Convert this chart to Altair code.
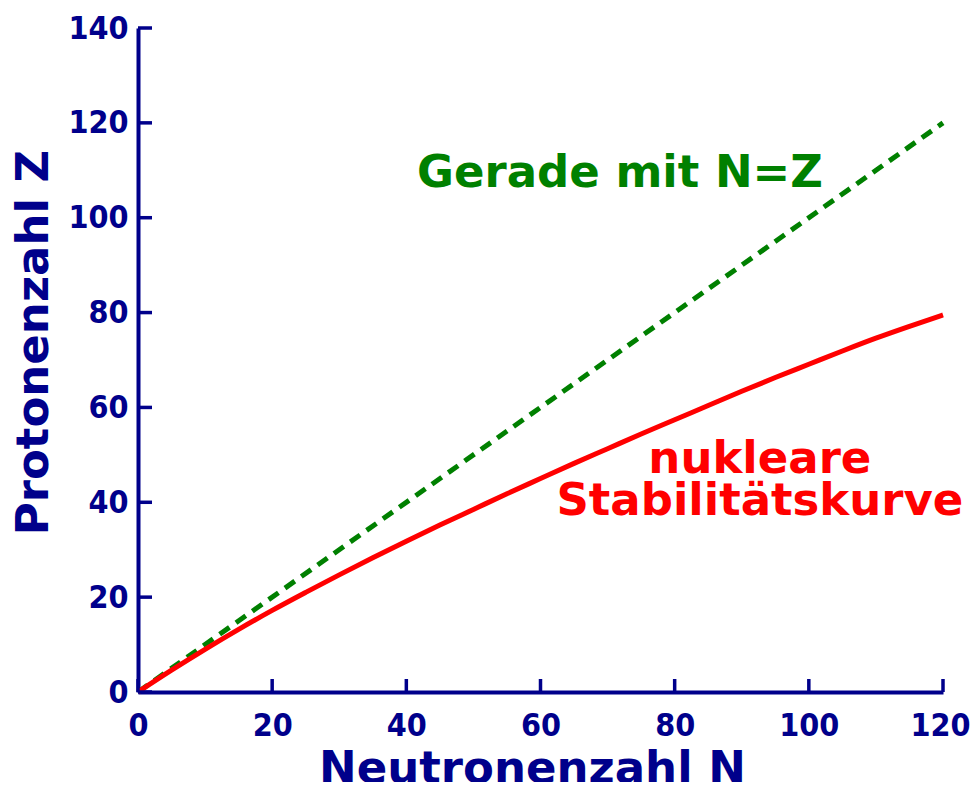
import altair as alt
import pandas as pd

# Data
stab_n = [0, 5, 10, 15, 20, 25, 30, 35, 40, 45, 50, 55, 60, 65, 70, 75, 80, 85, 90, 95, 100, 105, 110, 115, 120]
stab_z = [0, 4.6, 9.0, 13.2, 17.2, 21.0, 24.7, 28.3, 31.8, 35.2, 38.5, 41.8, 45.0, 48.2, 51.3, 54.4, 57.4, 60.4, 63.4, 66.3, 69.1, 71.9, 74.6, 77.1, 79.5]
diag_n = [0, 120]
diag_z = [0, 120]
x_ticks = [0, 20, 40, 60, 80, 100, 120]
y_ticks = [0, 20, 40, 60, 80, 100, 120, 140]

NAVY = "#00008B"
W, H = 805, 664

stab = pd.DataFrame({"N": stab_n, "Z": stab_z})
diag = pd.DataFrame({"N": diag_n, "Z": diag_z})

xs = alt.Scale(domain=[0, 120], nice=False, zero=False)
ys = alt.Scale(domain=[0, 140], nice=False, zero=False)

xaxis = alt.Axis(values=x_ticks, title="Neutronenzahl N", grid=False, ticks=False,
                 domainColor=NAVY, domainWidth=4, labelColor=NAVY,
                 labelFont="DejaVu Sans Condensed", labelFontWeight="bold", labelFontSize=32,
                 labelOffset={"condition": {"test": "datum.value == 120", "value": -3}, "value": 0},
                 labelPadding=18, labelFlush=False, titleColor=NAVY, titleFont="DejaVu Sans",
                 titleFontWeight="bold", titleFontSize=45, titleBaseline="alphabetic",
                 titleY=90, titleX=394)
yaxis = alt.Axis(values=y_ticks, title="Protonenzahl Z", grid=False, ticks=False,
                 domainColor=NAVY, domainWidth=4, labelColor=NAVY,
                 labelFont="DejaVu Sans Condensed", labelFontWeight="bold", labelFontSize=32,
                 labelPadding=10, labelFlush=False, titleColor=NAVY, titleFont="DejaVu Sans",
                 titleFontWeight="bold", titleFontSize=45, titleBaseline="alphabetic",
                 titleX=-91, titleY=314, titleAngle=-90)

base_axes = alt.Chart(stab).mark_line(opacity=0).encode(
    x=alt.X("N:Q", scale=xs, axis=xaxis),
    y=alt.Y("Z:Q", scale=ys, axis=yaxis),
)

yt = alt.Chart(pd.DataFrame({"v": y_ticks})).mark_rule(color=NAVY, strokeWidth=3.5).encode(
    y=alt.Y("v:Q", scale=ys), x=alt.value(0), x2=alt.value(14))
xt = alt.Chart(pd.DataFrame({"v": x_ticks})).mark_rule(color=NAVY, strokeWidth=3.5).encode(
    x=alt.X("v:Q", scale=xs), y=alt.value(H), y2=alt.value(H - 13))

green = alt.Chart(diag).mark_line(color="#008000", strokeWidth=5, strokeDash=[12, 8]).encode(
    x=alt.X("N:Q", scale=xs), y=alt.Y("Z:Q", scale=ys))
red = alt.Chart(stab).mark_line(color="#FF0000", strokeWidth=5, interpolate="monotone").encode(
    x=alt.X("N:Q", scale=xs), y=alt.Y("Z:Q", scale=ys))

labels_green = pd.DataFrame({"N": [71.85], "Z": [106.5], "t": ["Gerade mit N=Z"]})
labels_red = pd.DataFrame({"N": [92.7, 92.7], "Z": [46.2, 37.3], "t": ["nukleare", "Stabilitätskurve"]})

tg = alt.Chart(labels_green).mark_text(color="#008000", font="DejaVu Sans", fontWeight="bold",
                                        fontSize=45, align="center", baseline="alphabetic").encode(
    x=alt.X("N:Q", scale=xs), y=alt.Y("Z:Q", scale=ys), text="t:N")
tr = alt.Chart(labels_red).mark_text(color="#FF0000", font="DejaVu Sans", fontWeight="bold",
                                      fontSize=45, align="center", baseline="alphabetic").encode(
    x=alt.X("N:Q", scale=xs), y=alt.Y("Z:Q", scale=ys), text="t:N")

chart = alt.layer(base_axes, green, red, yt, xt, tg, tr).properties(
    width=W, height=H,
    autosize=alt.AutoSizeParams(type="none"),
    padding={"left": 130, "top": 20, "right": 28, "bottom": 90},
).configure_view(stroke=None)

chart.save("out.html", embed_options={"renderer": "svg", "actions": False})
